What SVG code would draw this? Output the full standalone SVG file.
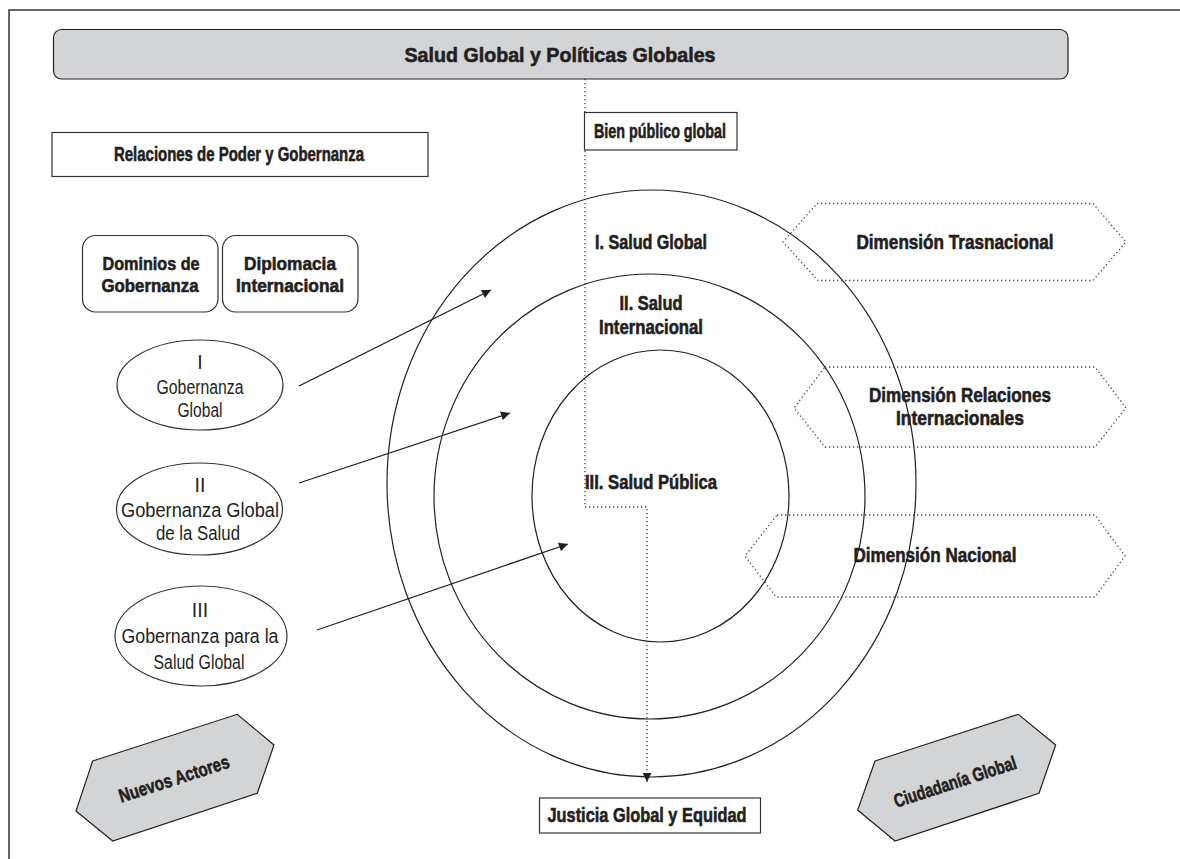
<svg xmlns="http://www.w3.org/2000/svg" width="1180" height="859" viewBox="0 0 1180 859">
<style>
.b{font-family:"Liberation Sans",Arial,sans-serif;font-weight:bold;font-size:20px;fill:#231f20;stroke:#231f20;stroke-width:0.6;text-anchor:middle}
.r{font-family:"Liberation Sans",Arial,sans-serif;font-size:19.5px;fill:#231f20;text-anchor:middle}
.box{fill:#fff;stroke:#333;stroke-width:1.2}
.gray{fill:#d3d4d6;stroke:#231f20;stroke-width:1.2}
.ring{fill:none;stroke:#231f20;stroke-width:1.2}
.dot{fill:none;stroke:#444;stroke-width:1.3;stroke-dasharray:1.3 2.7}
.arr{fill:none;stroke:#231f20;stroke-width:1.3}
</style>
<defs>
<marker id="ah" viewBox="0 0 10 10" refX="10" refY="5" markerWidth="11" markerHeight="9" markerUnits="userSpaceOnUse" orient="auto">
<path d="M0,0 L10,5 L0,10 Z" fill="#231f20"/>
</marker>
</defs>
<rect width="1180" height="859" fill="#fff"/>
<path d="M9,859 V10 H1180" fill="none" stroke="#333" stroke-width="1.5"/>

<g id="circles">
<ellipse id="ring-global" class="ring" cx="651.5" cy="483.5" rx="264.5" ry="293.5"/>
<ellipse id="ring-internacional" class="ring" cx="649.5" cy="496.5" rx="215.5" ry="222.5"/>
<ellipse id="ring-publica" class="ring" cx="660.5" cy="496" rx="128.5" ry="146"/>
</g>

<g id="connectors">
<path class="dot" d="M585,79 V507 H647 V782" marker-end="url(#ah)"/>
<line class="arr" x1="299" y1="386" x2="491" y2="290" marker-end="url(#ah)"/>
<line class="arr" x1="299" y1="483" x2="510" y2="413" marker-end="url(#ah)"/>
<line class="arr" x1="317" y1="630" x2="568" y2="544" marker-end="url(#ah)"/>
</g>

<g id="title">
<rect x="53.5" y="29.5" width="1014.5" height="49.5" rx="8" class="gray"/>
<text class="b" x="560" y="62" style="font-size:21px" textLength="311" lengthAdjust="spacingAndGlyphs">Salud Global y Políticas Globales</text>
</g>

<g id="relaciones">
<rect x="52" y="132.5" width="376" height="44" class="box"/>
<text class="b" x="239" y="161" style="font-size:21px" textLength="250" lengthAdjust="spacingAndGlyphs">Relaciones de Poder y Gobernanza</text>
</g>

<g id="bien-publico">
<rect x="584.5" y="112.5" width="152.5" height="37.5" class="box"/>
<text class="b" x="660" y="138" style="font-size:21px" textLength="132" lengthAdjust="spacingAndGlyphs">Bien público global</text>
</g>

<g id="dominios">
<rect x="82.5" y="235.5" width="135.5" height="76.5" rx="13" class="box"/>
<text class="b" x="151" y="270" style="font-size:19px" textLength="97" lengthAdjust="spacingAndGlyphs">Dominios de</text>
<text class="b" x="150" y="292" style="font-size:19px" textLength="97" lengthAdjust="spacingAndGlyphs">Gobernanza</text>
</g>

<g id="diplomacia">
<rect x="222.5" y="235.5" width="135.5" height="76.5" rx="13" class="box"/>
<text class="b" x="290" y="270" style="font-size:19px" textLength="92" lengthAdjust="spacingAndGlyphs">Diplomacia</text>
<text class="b" x="290" y="292" style="font-size:19px" textLength="108" lengthAdjust="spacingAndGlyphs">Internacional</text>
</g>

<g id="gob-I">
<ellipse cx="200" cy="385" rx="83" ry="45" class="box"/>
<text class="r" x="200" y="369">I</text>
<text class="r" x="200" y="394" textLength="87" lengthAdjust="spacingAndGlyphs">Gobernanza</text>
<text class="r" x="200" y="417" textLength="45" lengthAdjust="spacingAndGlyphs">Global</text>
</g>

<g id="gob-II">
<ellipse cx="199.5" cy="509" rx="83" ry="46" class="box"/>
<text class="r" x="200" y="492">II</text>
<text class="r" x="200" y="517" textLength="158" lengthAdjust="spacingAndGlyphs">Gobernanza Global</text>
<text class="r" x="198" y="540" textLength="84" lengthAdjust="spacingAndGlyphs">de la Salud</text>
</g>

<g id="gob-III">
<ellipse cx="201" cy="636" rx="86" ry="50" class="box"/>
<text class="r" x="200" y="617">III</text>
<text class="r" x="200" y="643" textLength="157" lengthAdjust="spacingAndGlyphs">Gobernanza para la</text>
<text class="r" x="199" y="669" textLength="91" lengthAdjust="spacingAndGlyphs">Salud Global</text>
</g>

<g id="labels-circles">
<text class="b" x="651" y="249" textLength="112" lengthAdjust="spacingAndGlyphs">I. Salud Global</text>
<text class="b" x="651" y="310" textLength="63" lengthAdjust="spacingAndGlyphs">II. Salud</text>
<text class="b" x="651" y="334" textLength="104" lengthAdjust="spacingAndGlyphs">Internacional</text>
<text class="b" x="651" y="489" textLength="132" lengthAdjust="spacingAndGlyphs">III. Salud Pública</text>
</g>

<g id="dim-trasnacional">
<polygon class="dot" points="817,203.5 1093,203.5 1126,242 1093,280.5 818,280.5 783,242"/>
<text class="b" x="955" y="249" textLength="197" lengthAdjust="spacingAndGlyphs">Dimensión Trasnacional</text>
</g>

<g id="dim-relaciones">
<polygon class="dot" points="825,367 1095,367 1126,408 1095,447 825,447 794,408"/>
<text class="b" x="960" y="402" textLength="182" lengthAdjust="spacingAndGlyphs">Dimensión Relaciones</text>
<text class="b" x="960" y="425" textLength="128" lengthAdjust="spacingAndGlyphs">Internacionales</text>
</g>

<g id="dim-nacional">
<polygon class="dot" points="777,515 1095,515 1125,556 1095,597 776,597 745,556"/>
<text class="b" x="935" y="562" textLength="163" lengthAdjust="spacingAndGlyphs">Dimensión Nacional</text>
</g>

<g id="justicia">
<rect x="539.5" y="798" width="221" height="35" class="box"/>
<text class="b" x="647" y="822" style="font-size:21px" textLength="199" lengthAdjust="spacingAndGlyphs">Justicia Global y Equidad</text>
</g>

<g id="nuevos-actores">
<polygon class="gray" points="92.7,761 237.3,714.3 274,745 257.3,793.3 112.7,841 76,811"/>
<text class="b" transform="translate(176,785) rotate(-18)" style="font-size:19px" textLength="115" lengthAdjust="spacingAndGlyphs">Nuevos Actores</text>
</g>

<g id="ciudadania">
<polygon class="gray" points="875,761 1018.3,714.3 1055.7,745 1039,793.3 895,841 857.7,810"/>
<text class="b" transform="translate(957,788) rotate(-18)" style="font-size:19px" textLength="128" lengthAdjust="spacingAndGlyphs">Ciudadanía Global</text>
</g>
</svg>
